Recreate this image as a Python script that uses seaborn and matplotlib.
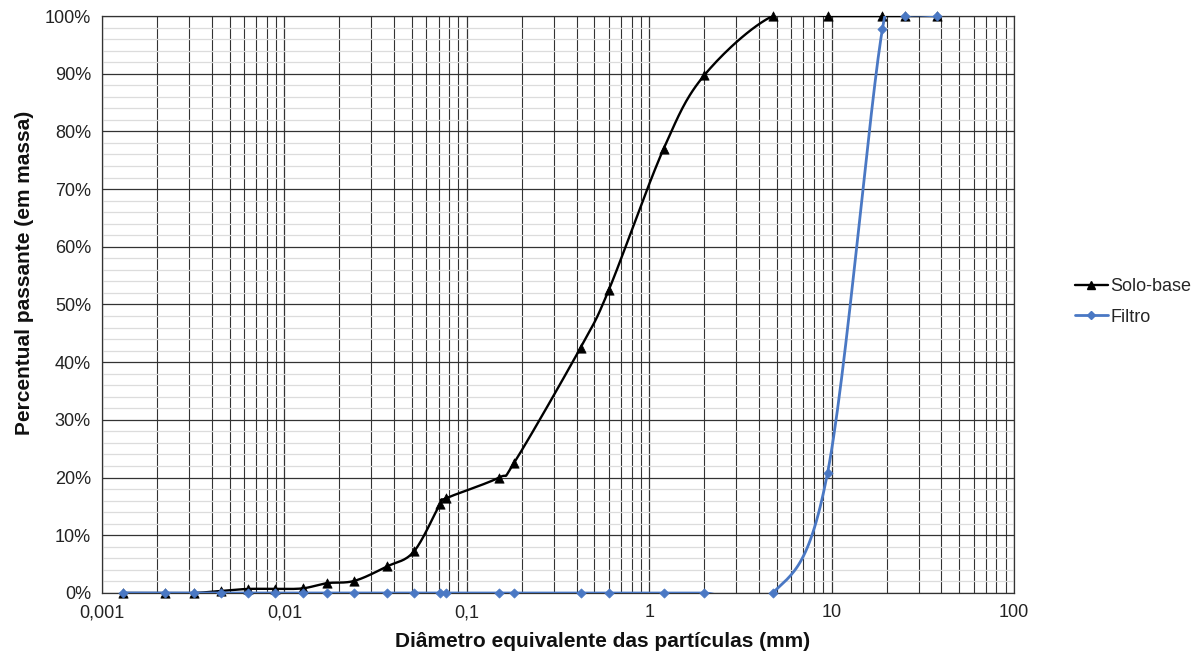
import numpy as np
import pandas as pd
import seaborn as sns
import matplotlib.pyplot as plt
from matplotlib.lines import Line2D
from matplotlib.ticker import FixedLocator, MultipleLocator, FuncFormatter

# diameters (mm) and percent passing
solo_d = [0.0013, 0.0022, 0.0032, 0.0045, 0.0063, 0.0089, 0.0126, 0.0171,
          0.0242, 0.0365, 0.0513, 0.0713, 0.0767, 0.150, 0.182, 0.42, 0.60,
          1.2, 2.0, 4.75, 9.5, 19.0, 25.4, 38.0]
solo_p = [0.0, 0.0, 0.0, 0.35, 0.7, 0.7, 0.8, 1.7, 2.1, 4.6, 7.2, 15.4, 16.4,
          20.0, 22.6, 42.5, 52.5, 77.0, 89.7, 100.0, 100.0, 100.0, 100.0, 100.0]

filtro_d = [0.0013, 0.0022, 0.0032, 0.0045, 0.0063, 0.0089, 0.0126, 0.0171,
            0.0242, 0.0365, 0.0513, 0.0713, 0.0767, 0.150, 0.182, 0.42, 0.60,
            1.2, 2.0, 4.75, 9.5, 19.0, 25.4, 38.0]
filtro_p = [0.0] * 19 + [0.0, 20.8, 97.8, 100.0, 100.0]

x_ticks = [0.001, 0.01, 0.1, 1, 10, 100]
x_labels = ['0,001', '0,01', '0,1', '1', '10', '100']


def smooth(d, p, n=30):
    # excel-like smoothed line (catmull-rom in log x)
    lx = np.log10(d)
    py = np.array(p, dtype=float)
    xs, ys = [], []
    m = len(lx)
    for i in range(m - 1):
        i0, i3 = max(i - 1, 0), min(i + 2, m - 1)
        t = np.linspace(0, 1, n)
        for arr, out in ((lx, xs), (py, ys)):
            p0, p1, p2, p3 = arr[i0], arr[i], arr[i + 1], arr[i3]
            c = 0.5 * ((2 * p1) + (-p0 + p2) * t
                       + (2 * p0 - 5 * p1 + 4 * p2 - p3) * t ** 2
                       + (-p0 + 3 * p1 - 3 * p2 + p3) * t ** 3)
            out.extend(c)
    return pd.DataFrame({'d': 10 ** np.array(xs), 'p': ys})


sns.set_style('white')
plt.rcParams['font.family'] = ['Liberation Sans', 'DejaVu Sans']

fig = plt.figure(figsize=(12.02, 6.59), dpi=100)
ax = fig.add_axes([0.0849, 0.1002, 0.7587, 0.8755])

black = '#000000'
blue = '#4a78c4'

s1 = smooth(solo_d, solo_p)
s2 = smooth(filtro_d, filtro_p)
sns.lineplot(data=s1, x='d', y='p', ax=ax, color=black, lw=1.7,
             sort=False, estimator=None, zorder=4)
sns.scatterplot(x=solo_d, y=solo_p, ax=ax, color=black, marker='^', s=45,
                edgecolor=black, linewidth=0.5, zorder=5, clip_on=False)
sns.lineplot(data=s2, x='d', y='p', ax=ax, color=blue, lw=2.0,
             sort=False, estimator=None, zorder=6)
sns.scatterplot(x=filtro_d, y=filtro_p, ax=ax, color=blue, marker='D', s=22,
                edgecolor=blue, linewidth=0.5, zorder=7, clip_on=False)

ax.set_xscale('log')
ax.set_xlim(0.001, 100)
ax.set_ylim(0, 100)

ax.xaxis.set_minor_locator(FixedLocator(
    [k * 10.0 ** e for e in range(-3, 2) for k in range(2, 10)]))
ax.set_xticks(x_ticks, x_labels)
ax.xaxis.set_minor_formatter(FuncFormatter(lambda v, pos: ''))
ax.yaxis.set_major_locator(MultipleLocator(10))
ax.yaxis.set_minor_locator(MultipleLocator(2))
ax.yaxis.set_major_formatter(FuncFormatter(lambda v, pos: '%d%%' % v))

ax.grid(which='major', axis='both', color='#333333', lw=0.9)
ax.grid(which='minor', axis='x', color='#333333', lw=0.8)
ax.grid(which='minor', axis='y', color='#dcdcdc', lw=0.9)
ax.set_axisbelow(True)

ax.tick_params(which='major', direction='out', length=4, width=0.8,
               color='#333333', labelsize=13, labelcolor='#222222', pad=4)
ax.tick_params(which='minor', length=0)
for sp in ax.spines.values():
    sp.set_color('#333333')
    sp.set_linewidth(0.9)

ax.set_xlabel('Diâmetro equivalente das partículas (mm)', fontsize=15,
              fontweight='bold', color='#111111', labelpad=8)
ax.set_ylabel('Percentual passante (em massa)', fontsize=15,
              fontweight='bold', color='#111111', labelpad=8)
ax.xaxis.label.set_x(0.549)
ax.yaxis.label.set_y(0.555)

handles = [Line2D([], [], color=black, lw=1.7, marker='^', markersize=6),
           Line2D([], [], color=blue, lw=2.0, marker='D', markersize=4)]
fig.legend(handles, ['Solo-base', 'Filtro'], loc='center left',
           bbox_to_anchor=(0.881, 0.542), frameon=False, fontsize=13,
           handlelength=1.8, handletextpad=0.15, labelspacing=0.75)

fig.savefig('out.png', dpi=100)
